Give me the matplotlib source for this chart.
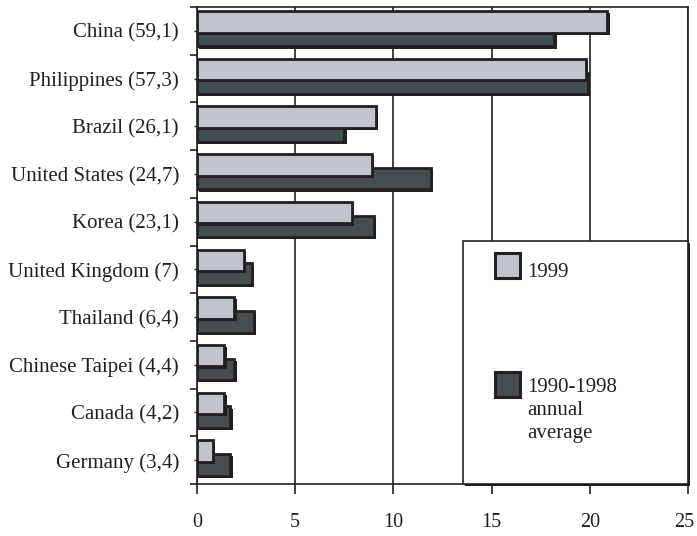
import matplotlib
matplotlib.use("Agg")
import matplotlib.pyplot as plt
import matplotlib.patheffects as pe
import matplotlib.transforms as mtransforms
from matplotlib.patches import Rectangle
import numpy as np

countries = ['China (59,1)', 'Philippines (57,3)', 'Brazil (26,1)', 'United States (24,7)',
             'Korea (23,1)', 'United Kingdom (7)', 'Thailand (6,4)', 'Chinese Taipei (4,4)',
             'Canada (4,2)', 'Germany (3,4)']
v1999 = [20.9, 19.8, 9.1, 8.9, 7.9, 2.4, 1.9, 1.4, 1.4, 0.8]
vavg = [18.2, 19.9, 7.5, 11.9, 9.0, 2.8, 2.9, 1.9, 1.7, 1.7]
xticks = [0, 5, 10, 15, 20, 25]
legend_labels = ['1999', '1990-1998\nannual\naverage']

LIGHT = '#c0c4cc'
DARK = '#454d4f'
EDGE = '#231f20'
FONT = 'Liberation Serif'
FS = 15

plt.rcParams['font.family'] = [FONT, 'DejaVu Serif']

fig = plt.figure(figsize=(6.97, 5.36), dpi=100)
L, R, T, B = 197, 688, 7, 484
ax = fig.add_axes([L/697, 1-B/536, (R-L)/697, (B-T)/536])
W, H = R - L, B - T

y = np.arange(len(countries))
shadow = [pe.SimplePatchShadow(offset=(1.6, -1.6), shadow_rgbFace=EDGE, alpha=1.0), pe.Normal()]

ax.barh(y + 0.1, vavg, height=0.45, color=DARK, edgecolor=EDGE, linewidth=2.0,
        zorder=3, path_effects=shadow)
ax.barh(y - 0.19, v1999, height=0.45, color=LIGHT, edgecolor=EDGE, linewidth=2.0,
        zorder=4, path_effects=shadow)

ax.set_xlim(0, 25)
ax.set_ylim(len(countries) - 0.5, -0.5)
ax.set_xticks(xticks)
ax.set_xticklabels([str(t) for t in xticks], fontsize=14.5, color='#231f20')
ax.set_yticks(y)
ax.set_yticklabels(countries, fontsize=FS, color='#231f20')
ax.set_yticks(np.arange(-0.5, len(countries), 1.0), minor=True)
ax.tick_params(axis='y', which='major', length=2, width=1, pad=11, color=EDGE)
ax.tick_params(axis='y', which='minor', length=5, width=1.2, color=EDGE)
ax.tick_params(axis='x', which='major', length=7, width=1.2, pad=14, color=EDGE, direction='out')

# nudge the last x label slightly left so it stays inside the figure
lab = ax.get_xticklabels()[-1]
lab.set_transform(lab.get_transform() + mtransforms.ScaledTranslation(-4/100, 0, fig.dpi_scale_trans))

ax.grid(axis='x', color=EDGE, linewidth=1.2, zorder=1)
ax.set_axisbelow(True)
for s in ax.spines.values():
    s.set_color(EDGE)
    s.set_linewidth(1.2)

# legend box
lx0 = (463-L)/W
ltop = (B-241)/H
box = Rectangle((lx0, 0.0), 1.0 - lx0, ltop, transform=ax.transAxes, facecolor='white',
                edgecolor=EDGE, linewidth=1.2, zorder=6, clip_on=False,
                path_effects=[pe.SimplePatchShadow(offset=(1.2, -1.2), shadow_rgbFace=EDGE, alpha=1.0), pe.Normal()])
ax.add_patch(box)

sq_w = 25/W
sq_h = 25/H
sx = (495-L)/W
entries = [(LIGHT, (B-278)/H), (DARK, (B-397)/H)]
for (col, sy) in entries:
    ax.add_patch(Rectangle((sx, sy), sq_w, sq_h, transform=ax.transAxes, facecolor=col,
                           edgecolor=EDGE, linewidth=2.2, zorder=7, clip_on=False))

tx = (527-L)/W
ax.text(tx, (B-277)/H, legend_labels[0], transform=ax.transAxes, fontsize=FS,
        va='baseline', ha='left', color='#231f20', zorder=8)
ax.text(tx, (B-378)/H, legend_labels[1], transform=ax.transAxes, fontsize=FS,
        va='top', ha='left', color='#231f20', zorder=8, linespacing=1.27)

fig.savefig('out.png', dpi=100, facecolor='white')
